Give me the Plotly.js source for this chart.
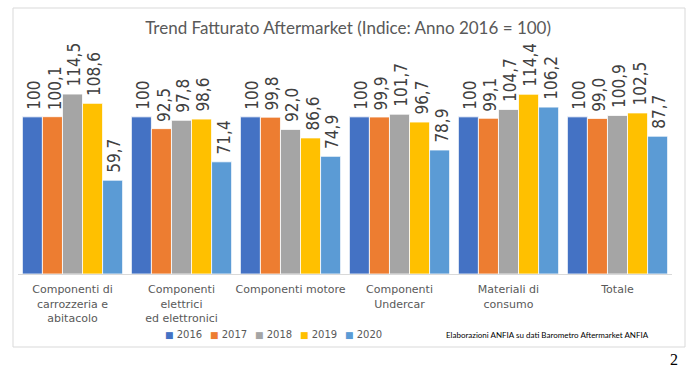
<!DOCTYPE html>
<html>
<head>
<meta charset="utf-8">
<script src="https://cdn.plot.ly/plotly-3.0.1.min.js"></script>
<style>html,body{margin:0;padding:0;background:#fff;}#chart{width:699px;height:375px;}</style>
</head>
<body>
<div id="chart"></div>
<script>
const categories = [
  "Componenti di<br>carrozzeria e<br>abitacolo",
  "Componenti<br>elettrici<br>ed elettronici",
  "Componenti motore",
  "Componenti<br>Undercar",
  "Materiali di<br>consumo",
  "Totale"
];
const years = ["2016", "2017", "2018", "2019", "2020"];
const v2016 = [100, 100, 100, 100, 100, 100];
const v2017 = [100.1, 92.5, 99.8, 99.9, 99.1, 99.0];
const v2018 = [114.5, 97.8, 92.0, 101.7, 104.7, 100.9];
const v2019 = [108.6, 98.6, 86.6, 96.7, 114.4, 102.5];
const v2020 = [59.7, 71.4, 74.9, 78.9, 106.2, 87.7];
const colors = ["#4472C4", "#ED7D31", "#A5A5A5", "#FFC000", "#5B9BD5"];

const series = [v2016, v2017, v2018, v2019, v2020];
const BARGAP = 0.08;
const traces = series.map((vals, i) => ({
  type: 'bar',
  name: years[i],
  x: categories,
  y: vals,
  marker: {color: colors[i], line: {color: '#ffffff', width: 0.8}},
  hoverinfo: 'skip',
  showlegend: false
}));

// plot area: x 18..672, y 54..274
const L = 18, R = 672, T = 54, B = 274;
const pw = R - L, ph = B - T;
const px = x => (x - L) / pw;
const py = y => (B - y) / ph;

// value labels (rotated), anchored at each bar's value through the axes
const bandPx = pw / categories.length;
const barW = bandPx * (1 - BARGAP) / series.length;
const fmt = (v, i) => i === 0 ? String(Math.round(v)) : v.toFixed(1).replace('.', ',');
const valueAnnots = [];
series.forEach((vals, i) => {
  vals.forEach((v, k) => {
    valueAnnots.push({
      text: fmt(v, i),
      xref: 'x', yref: 'y', x: categories[k], y: v,
      xshift: (i - (series.length - 1) / 2) * barW + 2,
      yshift: 5,
      textangle: -90,
      xanchor: 'center', yanchor: 'bottom', showarrow: false,
      font: {family: '"Liberation Sans Narrow", "DejaVu Sans Condensed", Lato, sans-serif', size: 17, color: '#404040'}
    });
  });
});

const legendAnnots = years.map((yr, i) => ({
  text: '<span style="color:' + colors[i] + ';font-size:9px">■</span> ' + yr,
  xref: 'paper', yref: 'paper', x: px(163 + 45 * i), y: py(334),
  xanchor: 'left', yanchor: 'middle', showarrow: false,
  font: {family: 'DejaVu Sans, sans-serif', size: 10, color: '#595959'}
}));

const layout = {
  width: 699, height: 375,
  margin: {l: L, r: 699 - R, t: T, b: 375 - B, pad: 0},
  paper_bgcolor: '#ffffff', plot_bgcolor: '#ffffff',
  barmode: 'group',
  bargap: BARGAP,
  bargroupgap: 0.0,
  showlegend: false,
  title: {
    text: 'Trend Fatturato Aftermarket (Indice: Anno 2016 = 100)',
    font: {family: 'Lato, sans-serif', size: 17, color: '#595959'},
    x: 0.498, xanchor: 'center', xref: 'container',
    y: 1 - 28 / 375, yanchor: 'middle', yref: 'container'
  },
  xaxis: {
    showgrid: false, zeroline: false,
    showline: true, linecolor: '#D9D9D9', linewidth: 1,
    ticks: '', tickangle: 0, ticklabelstandoff: 5,
    tickfont: {family: 'DejaVu Sans, sans-serif', size: 11, color: '#595959'},
    fixedrange: true
  },
  yaxis: {
    range: [0, 140], visible: false, showgrid: false, zeroline: false, fixedrange: true
  },
  shapes: [{
    type: 'rect', xref: 'paper', yref: 'paper',
    x0: px(13), x1: px(685), y0: py(347), y1: py(8),
    line: {color: '#D9D9D9', width: 1}, fillcolor: 'rgba(0,0,0,0)', layer: 'below'
  }],
  annotations: valueAnnots.concat(legendAnnots).concat([
    {
      text: 'Elaborazioni ANFIA su dati Barometro Aftermarket ANFIA',
      xref: 'paper', yref: 'paper', x: px(444), y: py(335),
      xanchor: 'left', yanchor: 'middle', showarrow: false,
      font: {family: 'Lato, sans-serif', size: 8, color: '#000000'}
    },
    {
      text: '2',
      xref: 'paper', yref: 'paper', x: px(680), y: py(359),
      xanchor: 'right', yanchor: 'middle', showarrow: false,
      font: {family: 'Liberation Serif, serif', size: 16, color: '#000000'}
    }
  ])
};

Plotly.newPlot('chart', traces, layout, {displayModeBar: false, staticPlot: true});
</script>
</body>
</html>
